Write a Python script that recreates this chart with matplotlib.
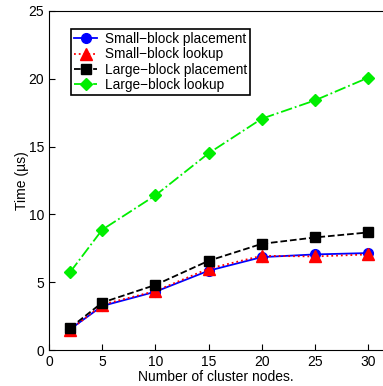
import matplotlib
matplotlib.use("Agg")
import matplotlib.pyplot as plt

plt.rcParams['font.family'] = ['Liberation Sans', 'DejaVu Sans']

# data
nodes = [2, 5, 10, 15, 20, 25, 30]
small_placement = [1.55, 3.25, 4.3, 5.85, 6.85, 7.05, 7.15]
small_lookup = [1.5, 3.35, 4.35, 6.0, 6.95, 6.9, 7.05]
large_placement = [1.65, 3.5, 4.8, 6.58, 7.83, 8.3, 8.67]
large_lookup = [5.76, 8.87, 11.4, 14.5, 17.05, 18.4, 20.07]

fig = plt.figure(figsize=(3.83, 3.86), dpi=100)
ax = fig.add_axes([0.128, 0.093, 0.872, 0.879])

ax.plot(nodes, small_placement, '-', color='blue', marker='o', ms=7, lw=1.3,
        label='Small\u2212block placement')
ax.plot(nodes, small_lookup, ':', color='red', marker='^', ms=8, lw=1.3,
        label='Small\u2212block lookup')
ax.plot(nodes, large_placement, '--', color='black', marker='s', ms=6.5, lw=1.3,
        label='Large\u2212block placement')
ax.plot(nodes, large_lookup, '-.', color='#00ee00', marker='D', ms=6.5, lw=1.3,
        label='Large\u2212block lookup')

ax.set_xlim(0, 31.4)
ax.set_ylim(0, 25)
ax.set_xticks([0, 5, 10, 15, 20, 25, 30])
ax.set_yticks([0, 5, 10, 15, 20, 25])
ax.tick_params(direction='in', labelsize=10, length=4)
ax.spines['right'].set_visible(False)
ax.set_xlabel('Number of cluster nodes.', fontsize=10, labelpad=1)
ax.set_ylabel('Time (\u00b5s)', fontsize=10, labelpad=0)

leg = ax.legend(loc='upper left', bbox_to_anchor=(0.066, 0.946), fontsize=9.8,
                fancybox=False, framealpha=1, edgecolor='black',
                borderpad=0.22, labelspacing=0.1, handlelength=1.7,
                handletextpad=0.6, borderaxespad=0)
leg.get_frame().set_linewidth(1.2)

fig.savefig('out.png', dpi=100)
